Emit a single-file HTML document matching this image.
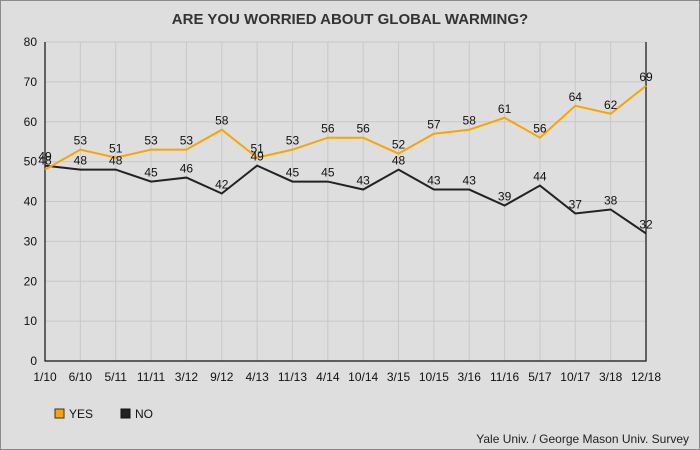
<!DOCTYPE html>
<html><head><meta charset="utf-8"><style>
html,body{margin:0;padding:0}
body{width:700px;height:450px;background:#dedede;font-family:"Liberation Sans",sans-serif;overflow:hidden}
#wrap{position:absolute;left:0;top:0;width:698px;height:448px;border:1px solid #8a8a8a}
</style></head><body>
<div id="wrap">
<svg id="chart" width="700" height="450" style="position:absolute;left:-1px;top:-1px">
<text x="350" y="24" text-anchor="middle" font-size="15" font-weight="bold" fill="#333">ARE YOU WORRIED ABOUT GLOBAL WARMING?</text>
<g id="grid"></g><g id="series"></g><g id="labels"></g>
<rect x="55" y="409" width="9" height="9" fill="#f7a600" stroke="#333" stroke-width="1"/>
<text x="69" y="418" font-size="12" fill="#111">YES</text>
<rect x="121" y="409" width="9" height="9" fill="#222" stroke="#111" stroke-width="1"/>
<text x="135" y="418" font-size="12" fill="#111">NO</text>
<text x="689" y="443" text-anchor="end" font-size="12" fill="#222">Yale Univ. / George Mason Univ. Survey</text>
</svg>
</div>
<script>
const categories=["1/10","6/10","5/11","11/11","3/12","9/12","4/13","11/13","4/14","10/14","3/15","10/15","3/16","11/16","5/17","10/17","3/18","12/18"];
const yesValues=[48,53,51,53,53,58,51,53,56,56,52,57,58,61,56,64,62,69];
const noValues=[49,48,48,45,46,42,49,45,45,43,48,43,43,39,44,37,38,32];
const yTicks=[0,10,20,30,40,50,60,70,80];
const NS="http://www.w3.org/2000/svg";
const L=45,R=646,T=42,B=361,yMax=80;
const xs=i=>L+i*(R-L)/(categories.length-1);
const ys=v=>B-(v/yMax)*(B-T);
function mk(tag,attrs,parent){const e=document.createElementNS(NS,tag);for(const k in attrs)e.setAttribute(k,attrs[k]);parent.appendChild(e);return e;}
const grid=document.getElementById('grid'),ser=document.getElementById('series'),lab=document.getElementById('labels');
yTicks.forEach(t=>{
 const g=mk('line',{x1:L,x2:R,y1:ys(t),y2:ys(t),stroke:'#c8c8c8','stroke-width':1},grid);
 
 
 const tx=mk('text',{x:L-8,y:ys(t)+4,'text-anchor':'end','font-size':12,fill:'#111'},grid);
 tx.textContent=t;
 
 
});
categories.forEach((c,i)=>{
 const g=mk('line',{x1:xs(i),x2:xs(i),y1:T,y2:B,stroke:'#c8c8c8','stroke-width':1},grid);
 
 
 const tx=mk('text',{x:xs(i),y:B+20,'text-anchor':'middle','font-size':12,fill:'#111'},grid);
 tx.textContent=c;
 
 
});
const ax=mk('path',{d:`M${L},${T}V${B}H${R}V${T}`,fill:'none',stroke:'#111','stroke-width':1.2},grid);


function drawSeries(vals,color,name){
 const p=mk('polyline',{points:vals.map((v,i)=>xs(i)+','+ys(v)).join(' '),fill:'none',stroke:color,'stroke-width':2},ser);
 
 
 vals.forEach((v,i)=>{
  const t=mk('text',{x:xs(i),y:ys(v)-5,'text-anchor':'middle','font-size':12,fill:'#111'},lab);
  t.textContent=v;
  
  
 });
}
drawSeries(noValues,'#222','no');
drawSeries(yesValues,'#f7a600','yes');
</script>
</body></html>
